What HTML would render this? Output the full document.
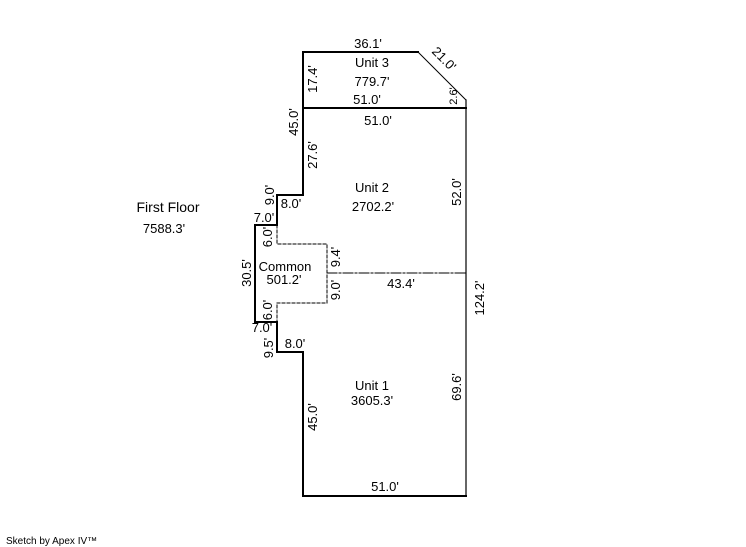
<!DOCTYPE html>
<html><head><meta charset="utf-8"><style>
html,body{margin:0;padding:0;background:#fff;}
svg{display:block;}
text{font-family:"Liberation Sans",sans-serif;font-size:13px;fill:#000;}
</style></head><body>
<svg width="746" height="547" viewBox="0 0 746 547" xmlns="http://www.w3.org/2000/svg">
<g fill="none" stroke="#000" stroke-linecap="square">
<polyline points="466,108 303,108" stroke-width="2"/>
<polyline points="418,52 303,52 303,195 277,195 277,225 255,225 255,322 277,322 277,352 303,352 303,496 466,496" stroke-width="2"/>
<line x1="418" y1="52" x2="466" y2="100" stroke-width="1"/>
<line x1="466" y1="100" x2="466" y2="496" stroke-width="1.2"/>
<polyline points="277,225 277,244 327,244 327,303 277,303 277,322" stroke-width="1" stroke-dasharray="3,2"/>
<line x1="327" y1="273" x2="466" y2="273" stroke-width="1" stroke-dasharray="10,2,2,2"/>
</g>
<text x="368" y="48" text-anchor="middle">36.1'</text>
<text x="441" y="62" text-anchor="middle" transform="rotate(45,441,62)">21.0'</text>
<text x="372" y="67" text-anchor="middle">Unit 3</text>
<text x="372" y="86" text-anchor="middle">779.7'</text>
<text x="367" y="104" text-anchor="middle">51.0'</text>
<text x="378" y="125" text-anchor="middle">51.0'</text>
<text x="457" y="96" text-anchor="middle" transform="rotate(-90,457,96)" style="font-size:11px">2.6'</text>
<text x="317" y="79" text-anchor="middle" transform="rotate(-90,317,79)">17.4'</text>
<text x="298" y="122" text-anchor="middle" transform="rotate(-90,298,122)">45.0'</text>
<text x="317" y="155" text-anchor="middle" transform="rotate(-90,317,155)">27.6'</text>
<text x="372" y="192" text-anchor="middle">Unit 2</text>
<text x="373" y="211" text-anchor="middle">2702.2'</text>
<text x="461" y="192" text-anchor="middle" transform="rotate(-90,461,192)">52.0'</text>
<text x="168" y="212" text-anchor="middle" style="font-size:14px">First Floor</text>
<text x="164" y="233" text-anchor="middle">7588.3'</text>
<text x="274" y="195" text-anchor="middle" transform="rotate(-90,274,195)">9.0'</text>
<text x="291" y="208" text-anchor="middle">8.0'</text>
<text x="264" y="222" text-anchor="middle">7.0'</text>
<text x="272" y="237" text-anchor="middle" transform="rotate(-90,272,237)">6.0'</text>
<text x="340" y="257" text-anchor="middle" transform="rotate(-90,340,257)">9.4'</text>
<text x="251" y="273" text-anchor="middle" transform="rotate(-90,251,273)">30.5'</text>
<text x="285" y="271" text-anchor="middle">Common</text>
<text x="284" y="284" text-anchor="middle">501.2'</text>
<text x="340" y="290" text-anchor="middle" transform="rotate(-90,340,290)">9.0'</text>
<text x="401" y="288" text-anchor="middle">43.4'</text>
<text x="484" y="298" text-anchor="middle" transform="rotate(-90,484,298)">124.2'</text>
<text x="272" y="310" text-anchor="middle" transform="rotate(-90,272,310)">6.0'</text>
<text x="262" y="332" text-anchor="middle">7.0'</text>
<text x="273" y="348" text-anchor="middle" transform="rotate(-90,273,348)">9.5'</text>
<text x="295" y="348" text-anchor="middle">8.0'</text>
<text x="372" y="390" text-anchor="middle">Unit 1</text>
<text x="372" y="405" text-anchor="middle">3605.3'</text>
<text x="461" y="387" text-anchor="middle" transform="rotate(-90,461,387)">69.6'</text>
<text x="317" y="417" text-anchor="middle" transform="rotate(-90,317,417)">45.0'</text>
<text x="385" y="491" text-anchor="middle">51.0'</text>
<text x="6" y="544" style="font-size:10px">Sketch by Apex IV™</text>
</svg>
</body></html>
